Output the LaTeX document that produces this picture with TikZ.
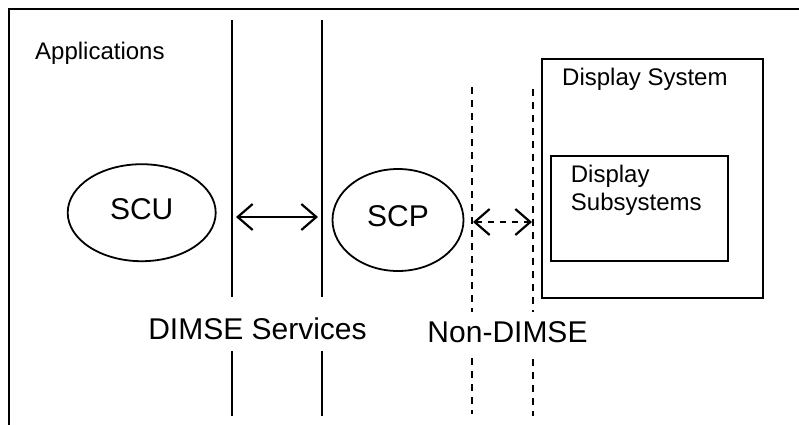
\documentclass[tikz,border=0pt]{standalone}
\usepackage{fontspec}
\setmainfont{Liberation Sans}
\usetikzlibrary{shapes.geometric,arrows.meta}

\begin{document}
\begin{tikzpicture}[x=1pt,y=-1pt]
        \tikzset{every node/.style={inner sep=0pt},
            big/.style={font=\fontsize{30}{34}\selectfont},
            small/.style={font=\fontsize{24}{28}\selectfont},
            oval/.style={draw,ellipse,line width=1.8pt,big,text depth=8pt},
            box/.style={draw,rectangle,line width=2.2pt},
            wall/.style={line width=2pt},
            broken/.style={line width=2pt,dash pattern=on 7pt off 6pt},
            link/.style={line width=2.2pt,{Straight Barb[length=15pt,width=26pt]}-{Straight Barb[length=15pt,width=26pt]}}}
        \useasboundingbox (0,0) rectangle (799,424);
        \clip (0,0) rectangle (799,424);
        \draw[line width=2.4pt] (9,440) -- (9,9) -- (820,9);
        \node[small,anchor=base west] (apps) at (35,59) {Applications};
        \draw[wall] (232,20) -- (232,297) (232,351) -- (232,416);
        \draw[wall] (322,20) -- (322,297) (322,351) -- (322,416);
        \draw[broken] (472,87) -- (472,312) (472,358) -- (472,414);
        \draw[broken] (533,89) -- (533,312) (533,359) -- (533,416);
        \node[oval,minimum width=148pt,minimum height=97pt] (scu) at (141.7,212.7) {SCU};
        \node[oval,minimum width=131pt,minimum height=102pt] (scp) at (398,220) {SCP};
        \node[box,minimum width=221pt,minimum height=239pt] (dsys) at (652.2,178.8) {};
        \node[small,anchor=base west] (dsystitle) at (562,85) {Display System};
        \node[box,minimum width=177pt,minimum height=105pt] (dsub) at (639.5,208.5) {};
        \node[small,anchor=north west,align=left] (dsubtitle) at (570.7,165.3) {Display\\Subsystems};
        \coordinate (dl) at (236,217);
        \coordinate (dr) at (318,217);
        \coordinate (nl) at (473,222);
        \coordinate (nr) at (532,222);
        \draw[link] (dl) -- (dr);
        \draw[link,dash pattern=on 6pt off 6pt] (nl) -- (nr);
        \node[big,anchor=base] (dimse) at (257.5,339.5) {DIMSE Services};
        \node[big,anchor=base] (nondimse) at (507.5,342.7) {Non-DIMSE};
\end{tikzpicture}
\end{document}
